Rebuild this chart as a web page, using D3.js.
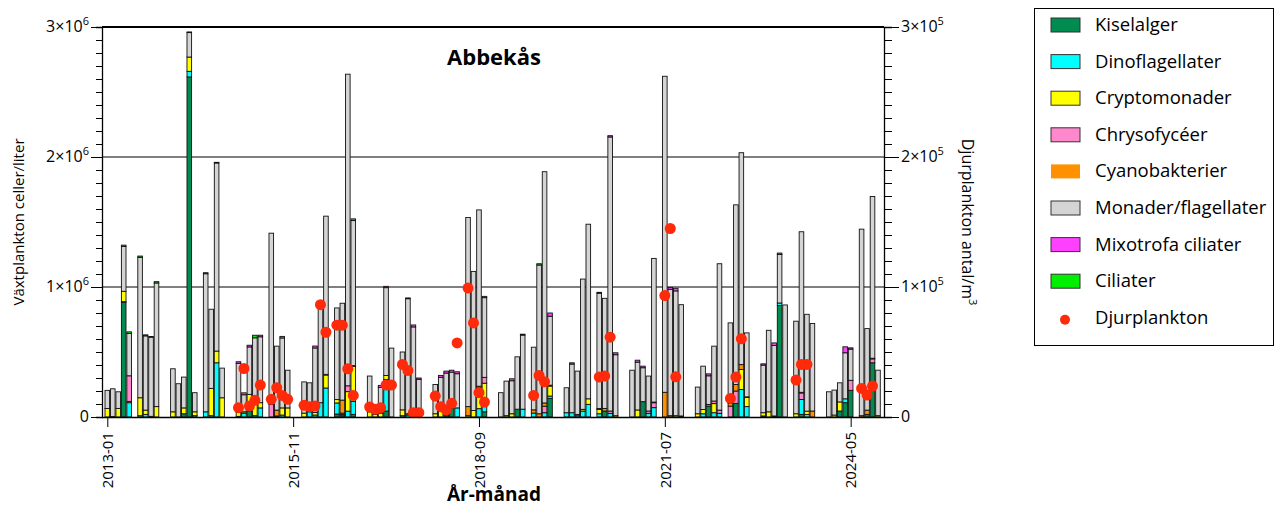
<!DOCTYPE html>
<html>
<head>
<meta charset="utf-8">
<script src="https://cdn.jsdelivr.net/npm/d3@7"></script>
<style>
  body { margin: 0; background: #fff; }
  text { font-family: "Open Sans", "Noto Sans", sans-serif; fill: #000; }
</style>
</head>
<body>
<svg id="chart" width="1276" height="508"></svg>
<script>
// Provtagningsmånader (år-månad)
const months = [
  "2013-01","2013-02","2013-03","2013-04","2013-05","2013-07","2013-08","2013-09","2013-10",
  "2014-01","2014-02","2014-03","2014-04","2014-05","2014-07","2014-08","2014-09","2014-10",
  "2015-01","2015-02","2015-03","2015-04","2015-05","2015-07","2015-08","2015-09","2015-10",
  "2016-01","2016-02","2016-03","2016-04","2016-05","2016-07","2016-08","2016-09","2016-10",
  "2017-01","2017-02","2017-03","2017-04","2017-05","2017-07","2017-08","2017-09","2017-10",
  "2018-01","2018-02","2018-03","2018-04","2018-05","2018-07","2018-08","2018-09","2018-10",
  "2019-01","2019-02","2019-03","2019-04","2019-05","2019-07","2019-08","2019-09","2019-10",
  "2020-01","2020-02","2020-03","2020-04","2020-05","2020-07","2020-08","2020-09","2020-10",
  "2021-01","2021-02","2021-03","2021-04","2021-05","2021-07","2021-08","2021-09","2021-10",
  "2022-01","2022-02","2022-03","2022-04","2022-05","2022-07","2022-08","2022-09","2022-10",
  "2023-01","2023-02","2023-03","2023-04","2023-05","2023-07","2023-08","2023-09","2023-10",
  "2024-01","2024-02","2024-03","2024-04","2024-05","2024-07","2024-08","2024-09","2024-10"
];

// Växtplankton, 1000 celler/liter per grupp
const kiselalger = [
  0,0,0,882,0,0,0,0,0,   0,0,25,2616,0,0,0,0,0,   0,0,46,0,0,0,8,0,0,
  0,0,0,0,0,23,10,0,20,  0,0,0,46,0,0,0,0,0,      0,0,10,70,0,0,0,0,40,
  0,0,0,60,0,0,0,0,143,  0,0,0,0,0,0,46,0,0,      0,0,118,0,0,0,0,0,8,
  0,0,84,0,0,0,105,0,0,  0,0,8,857,0,0,20,0,0,    0,0,46,110,205,0,20,417,0
];
const dinoflagellater = [
  0,0,0,5,110,10,20,5,0,     0,0,0,43,10,40,10,417,0,   5,30,0,10,70,0,0,15,0,
  0,40,15,110,223,85,10,45,100, 0,0,0,243,0,10,15,10,0, 0,0,0,0,70,0,0,64,40,
  0,0,0,0,60,30,0,33,18,     33,33,10,46,97,25,0,28,0,  0,0,0,28,72,0,0,0,0,
  0,25,13,33,28,0,0,212,80,  8,0,0,20,0,0,115,20,0,     0,0,0,30,0,0,0,0,0
];
const cryptomonader = [
  65,3,66,80,10,138,33,0,80,  40,0,45,110,30,0,210,90,148,  30,10,128,118,40,0,0,55,70,
  30,20,20,0,100,26,0,150,270, 40,20,30,30,0,45,0,0,0,     25,70,15,0,0,10,50,160,180,
  0,10,25,0,0,0,0,0,77,       0,0,10,13,43,33,0,0,10,      0,54,0,0,0,0,0,10,0,
  25,33,0,70,0,0,0,153,70,    25,40,0,0,0,25,0,25,0,       0,15,70,0,0,0,0,0,10
];
const chrysofyceer = [
  0,0,0,0,197,0,0,0,0,  0,0,0,0,0,0,0,0,0,    0,0,0,0,0,97,0,0,0,
  0,0,0,0,0,0,10,45,0,  0,0,0,0,0,0,0,0,0,    0,0,0,0,0,0,0,0,45,
  0,0,0,0,0,0,0,50,0,   0,0,0,0,0,0,0,18,0,   0,0,0,18,38,0,0,0,0,
  0,0,0,20,25,84,95,0,0, 0,0,0,0,0,0,50,0,0,  0,0,0,0,77,0,0,30,0
];
const cyanobakterier = [
  0,0,0,0,0,0,0,0,0,    0,0,0,0,0,0,0,0,0,     0,0,0,0,0,0,45,0,0,
  0,0,0,0,5,0,100,0,5,  0,0,0,0,0,0,10,0,0,    0,0,0,0,0,70,0,13,0,
  0,0,0,0,0,25,25,25,7, 0,0,0,0,0,7,20,0,0,    0,0,0,0,5,190,10,0,0,
  0,0,0,0,0,20,50,38,5, 0,0,0,0,0,0,5,0,46,    0,0,0,0,0,10,33,5,0
];
const monader = [
  140,214,128,345,325,1080,571,609,951,   331,256,237,188,147,1062,609,1447,228,
  378,131,365,481,507,1317,492,538,290,   240,203,496,729,1217,705,745,2397,1116,
  275,25,198,676,530,445,885,683,290,     225,235,313,275,263,1455,1070,1356,613,
  187,266,254,403,570,482,1144,1779,530,  192,374,333,1002,1343,887,847,2108,469,
  360,368,261,269,1105,2431,972,960,856,  205,333,220,422,1126,620,1382,1630,492,
  366,627,542,374,862,712,1235,745,673,   194,192,147,354,240,1435,627,1244,350
];
const mixotrofaCiliater = [
  0,0,0,0,0,0,0,0,0,      0,0,0,0,0,0,0,0,0,     12,15,13,0,12,0,0,12,0,
  0,0,15,0,0,0,0,0,0,     0,0,15,10,0,0,0,15,10, 0,15,15,15,15,0,0,0,10,
  0,0,15,0,0,0,0,0,25,    0,10,0,0,0,7,0,10,15,  0,15,12,0,0,0,15,20,0,
  0,0,15,0,0,0,0,0,0,     10,0,20,0,0,0,0,0,0,   0,0,0,46,10,0,0,0,0
];
const ciliater = [
  0,0,0,10,13,10,8,5,10,  0,0,0,5,0,8,0,5,0,   0,0,0,20,0,0,0,0,0,
  0,0,0,0,0,0,0,0,13,     0,0,0,0,0,0,6,0,0,   0,0,0,0,0,0,0,0,0,
  0,0,0,0,7,0,10,0,0,     0,0,0,0,0,0,0,0,0,   0,0,0,0,0,0,0,0,0,
  0,0,0,0,0,0,0,0,0,      0,0,0,10,0,0,0,0,0,  0,0,0,0,0,0,0,0,0
];

// Djurplankton, antal/m3
const zooMonths = [
  "2015-01","2015-02","2015-03","2015-04","2015-05","2015-07","2015-08","2015-09","2015-10",
  "2016-01","2016-02","2016-03","2016-04","2016-05","2016-07","2016-08","2016-09","2016-10",
  "2017-01","2017-02","2017-03","2017-04","2017-05","2017-07","2017-08","2017-09","2017-10",
  "2018-01","2018-02","2018-03","2018-04","2018-05","2018-07","2018-08","2018-09","2018-10",
  "2019-07","2019-08","2019-09","2020-07","2020-08","2020-09","2021-07","2021-08","2021-09",
  "2022-07","2022-08","2022-09","2023-07","2023-08","2023-09","2024-07","2024-08","2024-09"
];
const zooValues = [
  7200,37300,8400,12800,24600,13600,22500,16600,13600,
  9000,7900,8400,86400,65200,70600,70600,37100,16600,
  7700,5900,7200,24600,24600,40400,35800,3300,3300,
  16100,7900,5400,10500,57000,99200,72400,18700,11500,
  16600,32000,27100,30700,31500,61400,93400,145000,30900,
  14300,30700,60100,28400,40400,40400,22000,16900,23800
];

const groupNames = ["Kiselalger","Dinoflagellater","Cryptomonader","Chrysofycéer",
  "Cyanobakterier","Monader/flagellater","Mixotrofa ciliater","Ciliater"];
const groupColors = ["#008c50","#00ffff","#ffff00","#ff88cc","#ff9000","#d4d4d4","#ff40ff","#00ee00"];
const groupSeries = [kiselalger, dinoflagellater, cryptomonader, chrysofyceer,
  cyanobakterier, monader, mixotrofaCiliater, ciliater];

const xTickMonths = ["2013-01","2015-11","2018-09","2021-07","2024-05"];
const yLeftTicks = [0, 1000, 2000, 3000];
const yLeftLabels = [["0",""],["1×10","6"],["2×10","6"],["3×10","6"]];
const yRightTicks = [0, 100000, 200000, 300000];
const yRightLabels = [["0",""],["1×10","5"],["2×10","5"],["3×10","5"]];

// Månadsindex räknat från januari 2013
const monthIndex = s => (+s.slice(0,4) - 2013) * 12 + (+s.slice(5,7) - 1);

const svg = d3.select("#chart");
const L = 102, R = 884, T = 27, B = 417;

const x = d3.scaleLinear().domain([-0.97, 142.1]).range([L, R]);
const y = d3.scaleLinear().domain([0, 3000]).range([B, T]);
const yZ = d3.scaleLinear().domain([0, 300000]).range([B, T]);

// tabell för stapling
const table = months.map((m, i) => {
  const row = { m: monthIndex(m) };
  groupNames.forEach((g, k) => row[g] = groupSeries[k][i]);
  return row;
});
const stacked = d3.stack().keys(groupNames)(table);

// stödlinjer vid 1e6 och 2e6
svg.append("g").selectAll("line").data([1000, 2000]).join("line")
  .attr("x1", L).attr("x2", R).attr("y1", d => y(d)).attr("y2", d => y(d))
  .attr("stroke", "#000").attr("stroke-width", 1);

// staplar
const barW = 4.6;
stacked.forEach((layer, k) => {
  svg.append("g")
    .selectAll("rect")
    .data(layer.filter(d => d[1] - d[0] > 0))
    .join("rect")
    .attr("x", d => x(d.data.m) - barW / 2)
    .attr("width", barW)
    .attr("y", d => y(d[1]))
    .attr("height", d => y(d[0]) - y(d[1]))
    .attr("fill", groupColors[k])
    .attr("stroke", "#111")
    .attr("stroke-width", 0.9);
});

// djurplankton
svg.append("g").selectAll("circle")
  .data(zooMonths.map((m, i) => ({ m: monthIndex(m), v: zooValues[i] })))
  .join("circle")
  .attr("cx", d => x(d.m)).attr("cy", d => yZ(d.v)).attr("r", 5.5)
  .attr("fill", "#ff2a0a");

// ramlinjer
svg.append("line").attr("x1", L).attr("x2", R).attr("y1", T).attr("y2", T)
  .attr("stroke", "#000").attr("stroke-width", 2);

// vänster axel
const minorL = d3.range(0, 3001, 100);
svg.append("g").attr("transform", `translate(${L},0)`)
  .call(d3.axisLeft(y).tickValues(minorL).tickSize(6).tickFormat(""))
  .call(g => g.selectAll("line").attr("stroke", "#000"))
  .call(g => g.select(".domain").attr("stroke", "#000").attr("stroke-width", 1.3));
svg.append("g").attr("transform", `translate(${L},0)`)
  .call(d3.axisLeft(y).tickValues(yLeftTicks).tickSize(11).tickFormat(""))
  .call(g => g.select(".domain").remove())
  .call(g => g.selectAll("line").attr("stroke", "#000"));
yLeftTicks.forEach((v, i) => {
  const t = svg.append("text").attr("x", L - 13).attr("y", y(v) + 5)
    .attr("text-anchor", "end").attr("font-size", 16);
  t.append("tspan").text(yLeftLabels[i][0]);
  if (yLeftLabels[i][1]) t.append("tspan").attr("dy", -7).attr("font-size", 11).text(yLeftLabels[i][1]);
});

// höger axel
const minorR = d3.range(0, 300001, 10000);
svg.append("g").attr("transform", `translate(${R},0)`)
  .call(d3.axisRight(yZ).tickValues(minorR).tickSize(8).tickFormat(""))
  .call(g => g.selectAll("line").attr("stroke", "#000"))
  .call(g => g.select(".domain").attr("stroke", "#000").attr("stroke-width", 1.3));
svg.append("g").attr("transform", `translate(${R},0)`)
  .call(d3.axisRight(yZ).tickValues(yRightTicks).tickSize(15).tickFormat(""))
  .call(g => g.select(".domain").remove())
  .call(g => g.selectAll("line").attr("stroke", "#000"));
yRightTicks.forEach((v, i) => {
  const t = svg.append("text").attr("x", R + 17).attr("y", yZ(v) + 5)
    .attr("text-anchor", "start").attr("font-size", 16);
  t.append("tspan").text(yRightLabels[i][0]);
  if (yRightLabels[i][1]) t.append("tspan").attr("dy", -7).attr("font-size", 11).text(yRightLabels[i][1]);
});

// x-axel
const xAxis = svg.append("g").attr("transform", `translate(0,${B})`)
  .call(d3.axisBottom(x).tickValues(xTickMonths.map(monthIndex)).tickSize(10)
    .tickFormat((d, i) => xTickMonths[i]))
  .call(g => g.select(".domain").attr("d", `M${L},0.5H${R}`).attr("stroke", "#000").attr("stroke-width", 1.3));
xAxis.selectAll("line").attr("stroke", "#000");
xAxis.selectAll("text")
  .attr("font-size", 15).attr("fill", "#000")
  .attr("font-family", "'Open Sans', sans-serif")
  .attr("transform", "rotate(-90)")
  .attr("text-anchor", "end")
  .attr("x", -15).attr("y", 0).attr("dy", "0.35em");

// titlar
svg.append("text").attr("x", 494).attr("y", 65).attr("text-anchor", "middle")
  .attr("font-size", 22).attr("font-weight", "bold").text("Abbekås");
svg.append("text").attr("x", 494).attr("y", 501).attr("text-anchor", "middle")
  .attr("font-size", 19).attr("font-weight", "bold").text("År-månad");
svg.append("text").attr("transform", `translate(24,222) rotate(-90)`)
  .attr("text-anchor", "middle").attr("font-size", 15).text("Växtplankton celler/liter");
const rt = svg.append("text").attr("transform", `translate(962,222) rotate(90)`)
  .attr("text-anchor", "middle").attr("font-size", 16);
rt.append("tspan").text("Djurplankton antal/m");
rt.append("tspan").attr("dy", -7).attr("font-size", 11).text("3");

// teckenförklaring
const lg = svg.append("g");
lg.append("rect").attr("x", 1034.5).attr("y", 8.5).attr("width", 239).attr("height", 337)
  .attr("fill", "#fff").attr("stroke", "#000").attr("stroke-width", 1);
const rowY = i => 25 + i * 36.6;
groupNames.forEach((g, i) => {
  lg.append("rect").attr("x", 1051).attr("y", rowY(i) - 7).attr("width", 29).attr("height", 14)
    .attr("fill", groupColors[i])
    .attr("stroke", g === "Cyanobakterier" ? "none" : "#333").attr("stroke-width", 1);
  lg.append("text").attr("x", 1095).attr("y", rowY(i) + 6).attr("font-size", 18.5).text(g);
});
lg.append("circle").attr("cx", 1065).attr("cy", rowY(8) + 2).attr("r", 5).attr("fill", "#ff2a0a");
lg.append("text").attr("x", 1095).attr("y", rowY(8) + 6).attr("font-size", 18.5).text("Djurplankton");
</script>
</body>
</html>
